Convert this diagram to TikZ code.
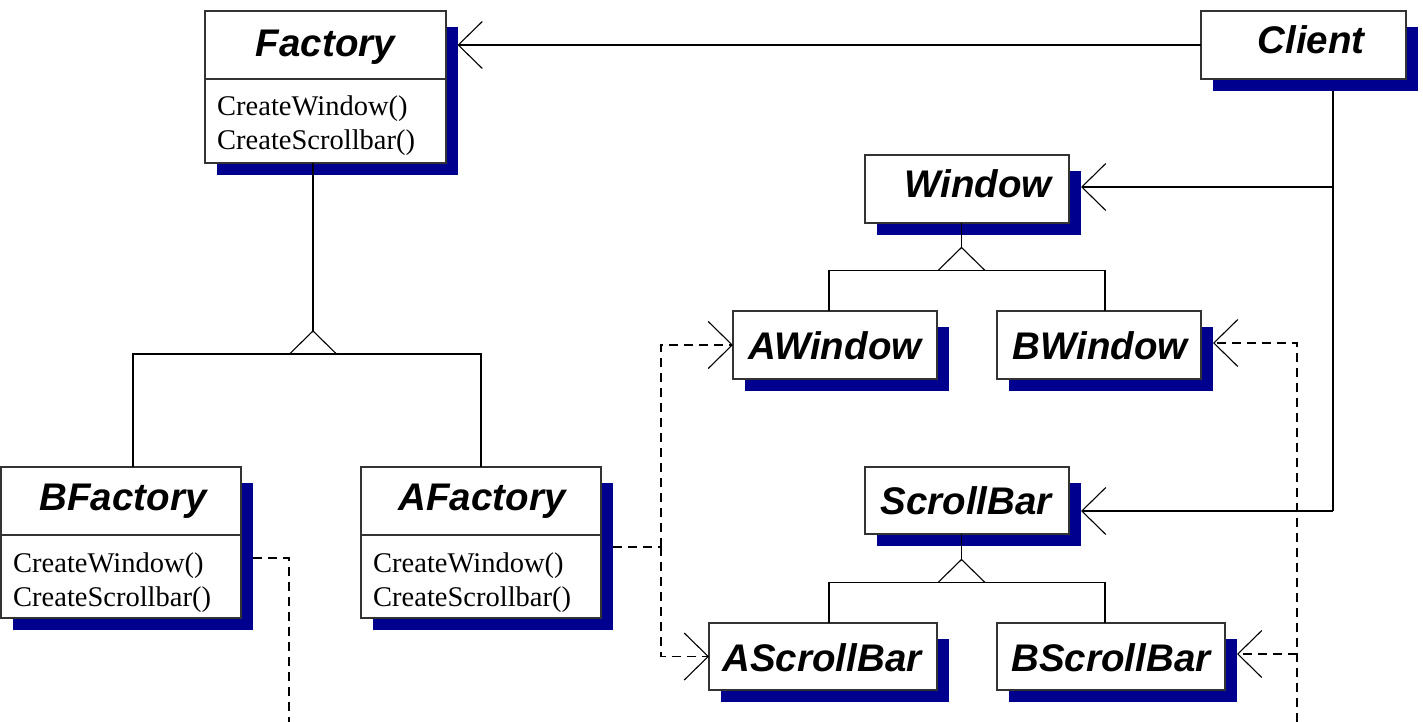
\documentclass[tikz,border=0pt]{standalone}
\usepackage{fontspec}
\setmainfont{Liberation Serif}
\newfontfamily\headfont{Liberation Sans}
\usetikzlibrary{arrows.meta,backgrounds,calc}
\definecolor{shadownavy}{RGB}{0,0,142}

\tikzset{
  classbox/.style={draw=black!80, line width=1.2pt, fill=white, inner sep=0pt, outer sep=0pt, rectangle},
  classname/.style={font=\headfont\bfseries\itshape\fontsize{38.5}{41}\selectfont, anchor=base, inner sep=0pt},
  method/.style={font=\fontsize{28.5}{33}\selectfont, anchor=base west, inner sep=0pt},
  link/.style={line width=1.1pt, draw=black},
  assoc/.style={link, -{Straight Barb[length=24pt,width=47pt,line width=1.1pt]}},
  depend/.style={assoc, dash pattern=on 9pt off 6pt},
  depline/.style={link, dash pattern=on 9pt off 6pt},
}

% class box: name, left, top, right, bottom (y grows downwards), with its drop shadow
\newcommand\umlbox[5]{%
  \pgfmathsetmacro\bw{#4-#2}\pgfmathsetmacro\bh{#5-#3}%
  \node[classbox, minimum width=\bw pt, minimum height=\bh pt] (#1) at ({(#2+#4)/2},{(#3+#5)/2}) {};
  \begin{scope}[on background layer]
    \fill[shadownavy] ([shift={(12,16)}]#1.north west) rectangle ([shift={(11.5,12)}]#1.south east);
  \end{scope}
}

\begin{document}
\begin{tikzpicture}[x=1pt, y=-1pt]
\useasboundingbox (0,0) rectangle (1423,722);

% ---- classes ----
\umlbox{factory}{205}{11}{446}{163}
\umlbox{client}{1201}{11}{1406}{79}
\umlbox{window}{865}{155}{1069}{223}
\umlbox{awindow}{733}{311}{937}{379}
\umlbox{bwindow}{997}{311}{1201}{379}
\umlbox{scrollbar}{865}{467}{1069}{534}
\umlbox{ascrollbar}{709}{623}{937}{690}
\umlbox{bscrollbar}{997}{623}{1225}{690}
\umlbox{bfactory}{1}{467}{241}{618}
\umlbox{afactory}{361}{467}{601}{618}

% compartment dividers
\foreach \n in {factory, bfactory, afactory}
  \draw[draw=black!80, line width=1.2pt] ([yshift=-68pt]\n.north west) -- ([yshift=-68pt]\n.north east);

% ---- names ----
\node[classname] (factory-t)    at (325.5,57) {Factory};
\node[classname] (client-t)     at (1311,54)  {Client};
\node[classname] (window-t)     at (978,197)  {Window};
\node[classname] (awindow-t)    at (835,359)  {AWindow};
\node[classname] (bwindow-t)    at (1100,359) {BWindow};
\node[classname] (scrollbar-t)  at (966,514)  {ScrollBar};
\node[classname] (ascrollbar-t) at (822,671)  {AScrollBar};
\node[classname] (bscrollbar-t) at (1111,671) {BScrollBar};
\node[classname] (bfactory-t)   at (123,510)  {BFactory};
\node[classname] (afactory-t)   at (482,510)  {AFactory};

% ---- operations ----
\node[method] (factory-m1)  at (217,116) {CreateWindow()};
\node[method] (factory-m2)  at (217,150) {CreateScrollbar()};
\node[method] (bfactory-m1) at (13,572)  {CreateWindow()};
\node[method] (bfactory-m2) at (13,606)  {CreateScrollbar()};
\node[method] (afactory-m1) at (373,572) {CreateWindow()};
\node[method] (afactory-m2) at (373,606) {CreateScrollbar()};

% ---- connection points ----
\coordinate (gen-fac) at (313,354);
\coordinate (gen-win) at (961.5,270.5);
\coordinate (gen-sb)  at (961.5,582.5);
\coordinate (bus)     at (1333,91);
\coordinate (fac-in)  at ([xshift=11.5pt]factory.east |- client.west);
\coordinate (win-in)  at (1081,187);
\coordinate (sb-in)   at (1081,511);
\coordinate (bw-in)   at (1213,343);
\coordinate (bsb-in)  at (1237,654);
\coordinate (af-out)  at (613,547);
\coordinate (af-rail) at (661,547);
\coordinate (bf-out)  at (253,558);
\coordinate (bf-rail) at (289,558);
\coordinate (bf-end)  at (289,722);
\coordinate (b-rail)  at (1297,722);

% ---- client associations ----
\draw[assoc] (client.west) -- (fac-in);
\draw[link] (bus) -- (bus |- sb-in);
\draw[assoc] (bus |- win-in) -- (win-in);
\draw[assoc] (bus |- sb-in) -- (sb-in);

% ---- generalisations ----
\foreach \g in {gen-fac, gen-win, gen-sb}
  \draw[link, line join=miter] ([xshift=-23.5pt]\g) -- ([yshift=23pt]\g) -- ([xshift=23.5pt]\g);
\draw[link] (factory.south -| gen-fac) -- ([yshift=23pt]gen-fac);
\draw[link] ([xshift=12pt]bfactory.north) |- (gen-fac) -| (afactory.north);
\draw[link] (window.south -| gen-win) -- ([yshift=23pt]gen-win);
\draw[link] ([xshift=-6pt]awindow.north) |- (gen-win) -| ([xshift=6pt]bwindow.north);
\draw[link] (scrollbar.south -| gen-sb) -- ([yshift=23pt]gen-sb);
\draw[link] ([xshift=6pt]ascrollbar.north) |- (gen-sb) -| ([xshift=-6pt]bscrollbar.north);

% ---- creation dependencies ----
\draw[depline] (af-out) -- (af-rail);
\draw[depend] (af-rail) |- (awindow.west);
\draw[depend] (af-rail) |- (ascrollbar.west);
\draw[depline] (bf-out) -- (bf-rail) -- (bf-end);
\draw[depend] (b-rail) |- (bw-in);
\draw[depend] (b-rail |- bsb-in) -- (bsb-in);
\end{tikzpicture}
\end{document}
